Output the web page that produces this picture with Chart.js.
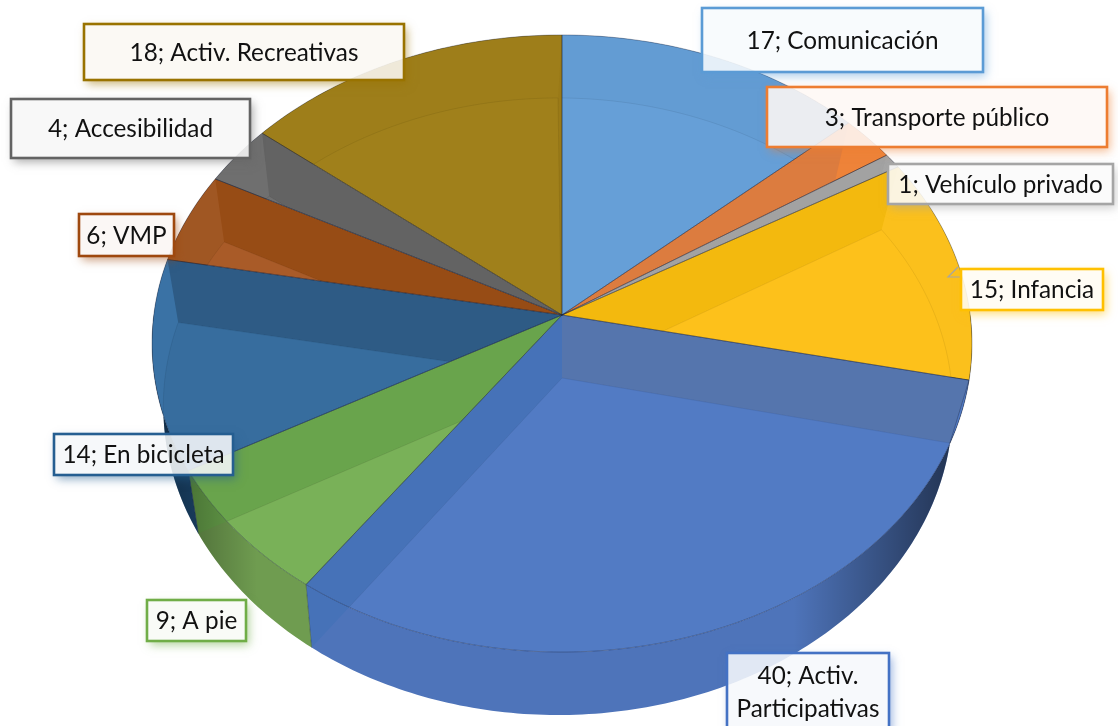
<!DOCTYPE html>
<html lang="es">
<head>
  <meta charset="UTF-8" />
  <title>Actividades</title>
  <script src="https://cdn.jsdelivr.net/npm/chart.js"></script>
  <style>
    html, body { margin: 0; padding: 0; background: #fff; overflow: hidden; }
    canvas { display: block; }
  </style>
</head>
<body>
  <canvas id="pieCanvas" width="1118" height="726"></canvas>

  <script>
    const categories = ['Comunicación', 'Transporte público', 'Vehículo privado', 'Infancia', 'Activ. Participativas',
      'A pie', 'En bicicleta', 'VMP', 'Accesibilidad', 'Activ. Recreativas'];
    const values = [17, 3, 1, 15, 40, 9, 14, 6, 4, 18];

    // shades per slice: top face, curved wall seen through it, radial walls, outer wall, label border
    const faceColors = ['#669fd7', '#ee8339', '#a8a8a8', '#fdc11b', '#527bc4', '#79b158', '#376d9e', '#a95b28', '#6f6f6f', '#a0801b'];
    const curvedColors = ['#639cd3', '#ee8339', '#a5a5a5', '#fbc01c', '#527bc4', '#6f9c50', '#3a72a5', '#a05723', '#6f6f6f', '#9e7e1a'];
    const startWallColors = ['#5c95cb', '#dc7c3f', '#a2a2a2', '#f3b90e', '#5575ad', '#69a44c', '#2e5b85', '#974c15', '#636363', '#9a7a18'];
    const endWallColors = ['#5c95cb', '#dc7c3f', '#a2a2a2', '#f3b90e', '#4672b8', '#69a44c', '#2e5b85', '#974c15', '#636363', '#9a7a18'];
    const outerColors = ['#5a8fc2', '#d4712e', '#959595', '#e0ac10', '#4e74ba', '#6f9c50', '#1f4e79', '#8a4210', '#5a5a5a', '#8a6a10'];
    const borderColors = ['#5b9bd5', '#ed7d31', '#a5a5a5', '#ffc000', '#4472c4', '#70ad47', '#255e91', '#9e480e', '#636363', '#997300'];

    // label boxes: left, top, right, bottom
    const labelBoxes = [[702, 8, 983, 72], [767, 87, 1107, 147], [888, 164, 1113, 204], [961, 269, 1103, 310],
      [727, 653, 889, 730], [147, 600, 246, 641], [54, 434, 233, 475], [79, 214, 174, 256], [11, 99, 250, 158], [84, 24, 404, 80]];
    const labelLines = [null, null, null, null, ['40; Activ.', 'Participativas'], null, null, null, null, null];

    // perspective of the two discs, w = 1 - tilt * v
    const topDisc = { cx: 562, cy: 315, rimCx: 562, bx: 408.2, by: 305.9, tilt: 0.0924 };
    const bottomDisc = { cx: 562, cy: 378, rimCx: 558, bx: 393, by: 305.9, tilt: 0.0924 };

    function project(disc, angle) {
      const u = Math.cos(angle), v = Math.sin(angle);
      const w = 1 - disc.tilt * v;
      return [disc.rimCx + disc.bx * u / w, disc.cy + disc.by * v / w];
    }

    function rimPoints(disc, a0, a1) {
      const n = Math.max(2, Math.ceil((a1 - a0) / 0.015));
      const pts = [];
      for (let i = 0; i <= n; i++) pts.push(project(disc, a0 + (a1 - a0) * i / n));
      return pts;
    }

    function tracePoly(ctx, pts) {
      ctx.beginPath();
      pts.forEach((p, i) => i ? ctx.lineTo(p[0], p[1]) : ctx.moveTo(p[0], p[1]));
      ctx.closePath();
    }

    function wedge(disc, a0, a1) {
      return [[disc.cx, disc.cy]].concat(rimPoints(disc, a0, a1));
    }

    function radialWall(angle) {
      return [[topDisc.cx, topDisc.cy], project(topDisc, angle), project(bottomDisc, angle), [bottomDisc.cx, bottomDisc.cy]];
    }

    const pie3d = {
      id: 'pie3d',
      afterDatasetsDraw(chart) {
        const ctx = chart.ctx;
        const arcs = chart.getDatasetMeta(0).data;

        // outer walls
        arcs.forEach((arc, i) => {
          const outer = rimPoints(topDisc, arc.startAngle, arc.endAngle)
            .concat(rimPoints(bottomDisc, arc.startAngle, arc.endAngle).reverse());
          ctx.save();
          tracePoly(ctx, outer);
          ctx.fillStyle = outerColors[i];
          ctx.fill();
          ctx.clip();
          ctx.fillStyle = startWallColors[i];
          tracePoly(ctx, radialWall(arc.startAngle)); ctx.fill();
          ctx.fillStyle = endWallColors[i];
          tracePoly(ctx, radialWall(arc.endAngle)); ctx.fill();
          ctx.restore();
        });

        // side shading of the walls
        ctx.save();
        const all = rimPoints(bottomDisc, 0, Math.PI).concat(rimPoints(topDisc, 0, Math.PI).reverse());
        tracePoly(ctx, all);
        const shade = ctx.createLinearGradient(150, 0, 975, 0);
        shade.addColorStop(0, 'rgba(0,0,0,0.45)');
        shade.addColorStop(0.13, 'rgba(0,0,0,0)');
        shade.addColorStop(0.78, 'rgba(0,0,0,0)');
        shade.addColorStop(0.97, 'rgba(0,0,0,0.55)');
        ctx.fillStyle = shade;
        ctx.fill();
        ctx.restore();

        // top faces, with the inside of each slice seen through them
        arcs.forEach((arc, i) => {
          const a0 = arc.startAngle, a1 = arc.endAngle;
          const top = wedge(topDisc, a0, a1);
          ctx.save();
          tracePoly(ctx, top);
          ctx.clip();
          ctx.fillStyle = curvedColors[i];
          ctx.fill();
          ctx.fillStyle = startWallColors[i];
          tracePoly(ctx, radialWall(a0)); ctx.fill();
          ctx.fillStyle = endWallColors[i];
          tracePoly(ctx, radialWall(a1)); ctx.fill();
          ctx.fillStyle = faceColors[i];
          tracePoly(ctx, wedge(bottomDisc, a0, a1));
          ctx.fill();
          ctx.strokeStyle = 'rgba(0,0,0,0.07)';
          ctx.lineWidth = 1;
          ctx.stroke();
          ctx.restore();
        });

        // slice outlines
        arcs.forEach((arc, i) => {
          tracePoly(ctx, wedge(topDisc, arc.startAngle, arc.endAngle));
          ctx.strokeStyle = 'rgba(25,35,60,0.35)';
          ctx.lineWidth = 1;
          ctx.stroke();
          const p = project(topDisc, arc.endAngle), q = project(bottomDisc, arc.endAngle);
          if (Math.sin(arc.endAngle) > 0) {
            ctx.beginPath();
            ctx.moveTo(p[0], p[1]);
            ctx.lineTo(q[0], q[1]);
            ctx.stroke();
          }
        });

        drawLeaders(ctx);
        arcs.forEach((arc, i) => drawLabel(ctx, i));
      }
    };

    function drawLeaders(ctx) {
      ctx.strokeStyle = '#a5a5a5';
      ctx.lineWidth = 1.2;
      ctx.beginPath();
      ctx.moveTo(961, 277); ctx.lineTo(948, 277); ctx.lineTo(958, 267);
      ctx.stroke();
      ctx.beginPath();
      ctx.moveTo(893, 165); ctx.lineTo(885, 158);
      ctx.stroke();
    }

    function drawLabel(ctx, i) {
      const [x0, y0, x1, y1] = labelBoxes[i];
      const w = x1 - x0, h = y1 - y0;

      // soft shadow, only outside the box
      ctx.save();
      ctx.beginPath();
      ctx.rect(0, 0, 1118, 726);
      ctx.rect(x0, y0, w, h);
      ctx.clip('evenodd');
      ctx.shadowColor = borderColors[i] + '88';
      ctx.shadowBlur = 9;
      ctx.shadowOffsetX = 3;
      ctx.shadowOffsetY = 4;
      ctx.fillStyle = borderColors[i];
      ctx.fillRect(x0, y0, w, h);
      ctx.restore();

      // translucent fill, the pie shows faintly through it
      ctx.fillStyle = 'rgba(255,255,255,0.88)';
      ctx.fillRect(x0, y0, w, h);
      ctx.fillStyle = borderColors[i] + '0b';
      ctx.fillRect(x0, y0, w, h);
      ctx.strokeStyle = borderColors[i];
      ctx.lineWidth = 2.6;
      ctx.strokeRect(x0, y0, w, h);

      ctx.fillStyle = '#111';
      ctx.font = '24.3px Lato, Carlito, sans-serif';
      ctx.textAlign = 'center';
      ctx.textBaseline = 'middle';
      const lines = labelLines[i] || [values[i] + '; ' + categories[i]];
      if (lines.length === 1) {
        ctx.fillText(lines[0], (x0 + x1) / 2, (y0 + y1) / 2 + 1);
      } else {
        ctx.fillText(lines[0], (x0 + x1) / 2, y0 + 23);
        ctx.fillText(lines[1], (x0 + x1) / 2, y0 + 56);
      }
    }

    new Chart(document.getElementById('pieCanvas').getContext('2d'), {
      type: 'pie',
      data: {
        labels: categories,
        datasets: [{
          data: values,
          backgroundColor: 'rgba(0,0,0,0)',
          borderWidth: 0
        }]
      },
      options: {
        responsive: false,
        animation: false,
        events: [],
        plugins: {
          legend: { display: false },
          tooltip: { enabled: false }
        }
      },
      plugins: [pie3d]
    });
  </script>
</body>
</html>
